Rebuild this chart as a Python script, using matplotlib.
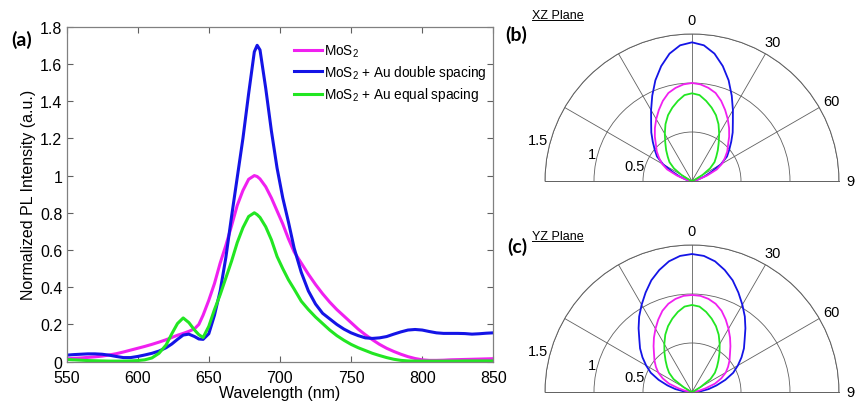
import numpy as np
import matplotlib
matplotlib.use("Agg")
import matplotlib.pyplot as plt
from matplotlib.lines import Line2D

plt.rcParams['font.family'] = ['Liberation Sans', 'DejaVu Sans']
plt.rcParams['mathtext.default'] = 'regular'

# PL spectra (nm, normalized intensity)
wavelength = [550, 555, 560, 565, 570, 575, 580, 585, 590, 595, 600, 605, 610, 615, 620,
              624, 628, 632, 636, 640, 643, 646, 650, 654, 658, 662, 666, 670, 674, 678,
              682, 684, 686, 690, 694, 698, 702, 706, 710, 715, 720, 725, 730, 735, 740,
              745, 750, 755, 760, 765, 770, 775, 780, 785, 790, 795, 800, 805, 810, 815,
              820, 825, 830, 835, 840, 845, 850]
mos2 = [0.015, 0.018, 0.020, 0.023, 0.026, 0.030, 0.036, 0.043, 0.052, 0.062, 0.072, 0.082, 0.093, 0.105, 0.118,
        0.130, 0.142, 0.152, 0.163, 0.177, 0.200, 0.250, 0.330, 0.420, 0.530, 0.625, 0.730, 0.840, 0.920, 0.980,
        1.000, 0.995, 0.982, 0.940, 0.880, 0.810, 0.740, 0.660, 0.590, 0.530, 0.470, 0.415, 0.365, 0.320, 0.280,
        0.245, 0.210, 0.175, 0.145, 0.118, 0.093, 0.072, 0.055, 0.040, 0.027, 0.017, 0.010, 0.007, 0.007, 0.008,
        0.010, 0.011, 0.012, 0.013, 0.014, 0.015, 0.016]
double_sp = [0.035, 0.038, 0.040, 0.042, 0.042, 0.040, 0.035, 0.028, 0.022, 0.022, 0.028, 0.036, 0.045, 0.057, 0.075,
             0.095, 0.120, 0.143, 0.148, 0.135, 0.122, 0.120, 0.150, 0.250, 0.380, 0.560, 0.780, 0.990, 1.200, 1.440,
             1.665, 1.700, 1.675, 1.470, 1.240, 1.040, 0.880, 0.750, 0.610, 0.480, 0.380, 0.310, 0.260, 0.230, 0.200,
             0.175, 0.155, 0.140, 0.128, 0.125, 0.128, 0.135, 0.148, 0.160, 0.170, 0.173, 0.170, 0.162, 0.155, 0.152,
             0.152, 0.152, 0.151, 0.148, 0.150, 0.153, 0.155]
equal_sp = [0.012, 0.010, 0.008, 0.006, 0.005, 0.004, 0.003, 0.003, 0.003, 0.004, 0.006, 0.010, 0.020, 0.045, 0.090,
            0.150, 0.205, 0.235, 0.210, 0.170, 0.145, 0.130, 0.190, 0.280, 0.360, 0.450, 0.540, 0.640, 0.720, 0.780,
            0.800, 0.790, 0.775, 0.725, 0.655, 0.565, 0.500, 0.440, 0.390, 0.325, 0.280, 0.240, 0.205, 0.170, 0.140,
            0.115, 0.093, 0.075, 0.060, 0.045, 0.033, 0.022, 0.013, 0.007, 0.004, 0.003, 0.003, 0.003, 0.003, 0.003,
            0.003, 0.003, 0.004, 0.004, 0.004, 0.004, 0.004]

# emission patterns, r vs polar angle (deg), symmetric about 0
angle = [0, 5, 10, 15, 20, 25, 30, 35, 40, 45, 50, 55, 60, 65, 70, 75, 80, 85, 90]
xz_mos2 = [1.0, 0.99, 0.965, 0.93, 0.87, 0.80, 0.73, 0.66, 0.59, 0.52, 0.47, 0.41, 0.355, 0.28, 0.165, 0.08, 0.04, 0.015, 0.0]
xz_double = [1.415, 1.39, 1.32, 1.214, 1.093, 0.96, 0.835, 0.727, 0.646, 0.566, 0.496, 0.436, 0.34, 0.215, 0.135, 0.07, 0.035, 0.012, 0.0]
xz_equal = [0.895, 0.88, 0.83, 0.775, 0.715, 0.64, 0.555, 0.475, 0.41, 0.35, 0.30, 0.225, 0.125, 0.04, 0.01, 0.0, 0.0, 0.0, 0.0]
yz_mos2 = [0.99, 0.985, 0.965, 0.932, 0.882, 0.815, 0.745, 0.677, 0.61, 0.548, 0.50, 0.45, 0.398, 0.33, 0.25, 0.14, 0.07, 0.03, 0.0]
yz_double = [1.408, 1.394, 1.354, 1.289, 1.213, 1.12, 1.028, 0.94, 0.848, 0.76, 0.692, 0.617, 0.54, 0.464, 0.362, 0.259, 0.173, 0.09, 0.0]
yz_equal = [0.888, 0.875, 0.83, 0.775, 0.715, 0.645, 0.565, 0.49, 0.42, 0.36, 0.305, 0.23, 0.10, 0.03, 0.01, 0.0, 0.0, 0.0, 0.0]

c_mos2 = '#f020f0'
c_double = '#1414e6'
c_equal = '#22e622'
grid_c = '#606060'

fig = plt.figure(figsize=(8.55, 4.06), dpi=100)

# ---- (a) spectra
ax = fig.add_axes([0.0778, 0.1067, 0.4992, 0.8251])
ax.plot(wavelength, mos2, color=c_mos2, lw=2.2, label='MoS$_2$')
ax.plot(wavelength, double_sp, color=c_double, lw=2.2, label='MoS$_2$ + Au double spacing')
ax.plot(wavelength, equal_sp, color=c_equal, lw=2.2, label='MoS$_2$ + Au equal spacing')
ax.set_xlim(550, 850)
ax.set_ylim(0, 1.8)
ax.set_xticks(np.arange(550, 851, 50))
yt = np.arange(0, 1.81, 0.2)
ax.set_yticks(yt)
ax.set_yticklabels(['%g' % round(v, 1) for v in yt])
ax.tick_params(direction='in', top=True, right=True, length=4, width=0.8,
               color=grid_c, labelsize=11.5)
ax.tick_params(axis='x', pad=6)
ax.tick_params(axis='y', pad=3)
for s in ax.spines.values():
    s.set_color('#808080')
    s.set_linewidth(0.9)
ax.set_xlabel('Wavelength (nm)', fontsize=11.5, labelpad=0)
ax.set_ylabel('Normalized PL Intensity (a.u.)', fontsize=11.5, labelpad=3)
leg = ax.legend(loc='upper left', bbox_to_anchor=(0.532, 0.952), frameon=False,
                fontsize=9.8, handlelength=2.1, handletextpad=0.15, labelspacing=0.3,
                borderaxespad=0, borderpad=0)
fig.text(0.013, 0.888, '(a)', fontsize=14, fontweight='bold', family='Lato')


def polar_panel(rect, r1, r2, r3):
    pa = fig.add_axes(rect, projection='polar')
    pa.set_theta_zero_location('N')
    pa.set_theta_direction(-1)
    pa.set_thetamin(-90)
    pa.set_thetamax(90)
    pa.set_rlim(0, 1.5)
    pa.set_rticks([0.5, 1.0, 1.5])
    pa.set_yticklabels([])
    pa.set_thetagrids([-60, -30, 0, 30, 60], labels=[''] * 5)
    pa.grid(True, color=grid_c, lw=0.6)
    for s in pa.spines.values():
        s.set_color(grid_c)
        s.set_linewidth(0.7)
    th = np.deg2rad(np.array(angle, dtype=float))
    full_th = np.concatenate([-th[::-1], th[1:]])
    for r, c in [(r2, c_double), (r1, c_mos2), (r3, c_equal)]:
        rr = np.array(r)
        full_r = np.concatenate([rr[::-1], rr[1:]])
        pa.plot(full_th, full_r, color=c, lw=1.3, clip_on=False)
    for a, lab in [(0, '0'), (30, '30'), (60, '60')]:
        pa.text(np.deg2rad(a), 1.64, lab, ha='center', va='center', fontsize=10.5)
    # the 90 label runs off the right edge, as in the original figure
    pa.text(np.deg2rad(90), 1.575, '90', ha='left', va='center', fontsize=10.5)
    for rpos, lab in [(0.61, '0.5'), (1.06, '1'), (1.63, '1.5')]:
        pa.text(np.deg2rad(-75), rpos, lab, ha='center', va='center', fontsize=10.5)
    return pa


# square boxes: the half disk is centred vertically inside each box
polar_panel([0.6374, 0.3707, 0.3439, 0.7241], xz_mos2, xz_double, xz_equal)
polar_panel([0.6374, -0.1490, 0.3439, 0.7241], yz_mos2, yz_double, yz_equal)

fig.text(0.591, 0.898, '(b)', fontsize=14, fontweight='bold', family='Lato')
fig.text(0.593, 0.378, '(c)', fontsize=14, fontweight='bold', family='Lato')
t1 = fig.text(0.622, 0.952, 'XZ Plane', fontsize=9)
t2 = fig.text(0.622, 0.408, 'YZ Plane', fontsize=9)

fig.canvas.draw()
rend = fig.canvas.get_renderer()
inv = fig.transFigure.inverted()
for t in (t1, t2):
    bb = t.get_window_extent(rend)
    (x0, y0), (x1, _) = inv.transform([(bb.x0, bb.y0 + 1), (bb.x1, bb.y0 + 1)])
    fig.add_artist(Line2D([x0, x1], [y0, y0], transform=fig.transFigure, color='black', lw=0.7))

fig.savefig('out.png', dpi=100)
